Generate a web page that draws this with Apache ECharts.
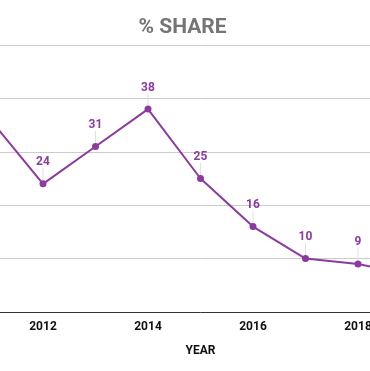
<!DOCTYPE html>
<html><head><meta charset="utf-8">
<script src="https://cdn.jsdelivr.net/npm/echarts@6/dist/echarts.min.js"></script>
<style>html,body{margin:0;padding:0;background:#fff;overflow:hidden;width:370px;height:371px;position:relative}
#c{position:absolute;left:-62.5px;top:0;width:525px;height:371px}</style>
</head><body><div id="c"></div>
<script>
const years = [2011, 2012, 2013, 2014, 2015, 2016, 2017, 2018, 2019];
const share = [36, 24, 31, 38, 25, 16, 10, 9, 7];

const chart = echarts.init(document.getElementById('c'));
chart.setOption({
  animation: false,
  title: { text: '% SHARE', left: 200.5, top: 17, padding: 0,
    textStyle: { fontFamily: 'Roboto', fontWeight: 'bold', fontSize: 21, color: '#757575' } },
  grid: { left: 0, right: 0, top: 45, bottom: 59, containLabel: false, outerBoundsMode: 'none' },
  xAxis: {
    type: 'value', min: 2010, max: 2020, interval: 2,
    name: 'YEAR', nameLocation: 'middle', nameGap: 33,
    nameTextStyle: { fontFamily: 'Roboto', fontWeight: 'bold', fontSize: 12, color: '#111' },
    axisLine: { lineStyle: { color: '#333', width: 1 } },
    axisTick: { show: false },
    splitLine: { show: false },
    axisLabel: { fontFamily: 'Roboto', fontWeight: 'bold', fontSize: 12, color: '#111', margin: 9,
      formatter: v => String(v) }
  },
  yAxis: {
    type: 'value', min: 0, max: 50, interval: 10,
    axisLabel: { show: false }, axisLine: { show: false }, axisTick: { show: false },
    splitLine: { lineStyle: { color: '#cccccc', width: 1 } }
  },
  series: [{
    type: 'line',
    data: years.map((y, i) => [y, share[i]]),
    symbol: 'circle', symbolSize: 7,
    itemStyle: { color: '#8b3a9f' },
    lineStyle: { color: '#8b3a9f', width: 2 },
    label: { show: true, position: 'top', distance: 5, fontFamily: 'Roboto', fontWeight: 'bold', fontSize: 12, color: '#8b3a9f' },
    labelLayout: { dy: -7 },
    labelLine: { show: true, lineStyle: { color: '#e0e0e0', width: 1 } }
  }]
});
</script></body></html>
